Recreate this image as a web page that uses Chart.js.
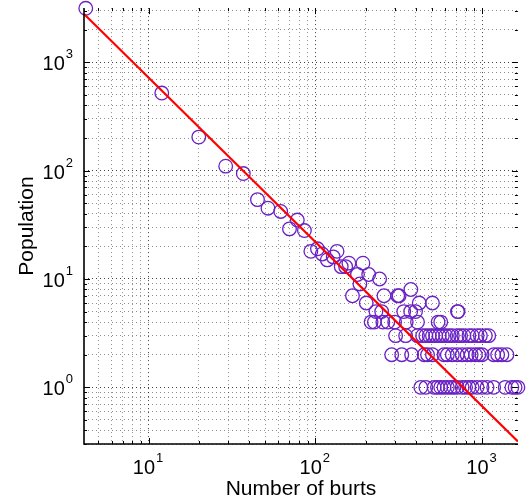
<!DOCTYPE html>
<html>
<head>
<meta charset="utf-8">
<script src="https://cdn.jsdelivr.net/npm/chart.js@4.4.1/dist/chart.umd.min.js"></script>
<style>
  html, body { margin: 0; padding: 0; background: #fff; }
  #wrap { width: 526px; height: 501px; }
</style>
</head>
<body>
<div id="wrap"><canvas id="chart" width="526" height="501"></canvas></div>
<script>
// Burst counts (x) and population (y) for each observation
const burstCounts = [
    4.2, 12, 20, 29, 37, 45, 52, 62, 70, 78,
    86, 94, 103, 110, 118, 128, 135, 143, 152, 159,
    167, 179, 185, 193, 202, 209, 216, 226, 231, 243,
    250, 254, 258, 272, 287, 299, 303, 312, 318, 330,
    339, 348, 351, 373, 374, 378, 399, 410, 410, 420,
    429, 440, 450, 460, 460, 471, 482, 504, 504, 504,
    516, 527, 540, 545, 553, 565, 565, 578, 591, 591,
    605, 619, 619, 634, 648, 663, 663, 678, 710, 710,
    710, 712, 718, 743, 760, 760, 778, 796, 814, 834,
    834, 860, 872, 872, 912, 934, 934, 956, 977, 1000,
    1000, 1046, 1071, 1096, 1174, 1174, 1240, 1315, 1376, 1409,
    1509, 1578, 1640
];
const populations = [
    3150, 520, 204, 110, 94, 54, 45, 42, 29, 35,
    28, 18, 19, 17, 15, 16, 18, 13, 13, 14,
    7, 11, 9, 14, 6, 11, 4, 4, 5, 10,
    5, 4, 7, 4, 2, 4, 3, 7, 7, 2,
    5, 3, 4, 5, 8, 2, 5, 3, 4, 6,
    1, 3, 2, 1, 3, 2, 3, 2, 3, 6,
    1, 3, 1, 4, 3, 1, 4, 3, 1, 2,
    3, 1, 2, 3, 1, 2, 3, 1, 1, 2,
    3, 5, 5, 3, 1, 2, 3, 1, 2, 1,
    3, 2, 1, 3, 2, 1, 3, 2, 3, 1,
    2, 3, 1, 3, 1, 2, 2, 2, 1, 2,
    1, 1, 1
];

// Power-law fit, drawn between the ends of the x range
const fitX = [4.1, 1640];
const fitY = [2790, 0.316];

const xRange = [4.1, 1640];
const yRange = [0.316, 3162];
const xLabelExps = [1, 2, 3];
const yLabelExps = [0, 1, 2, 3];

const axisFont = '"Liberation Sans", Arial, Helvetica, sans-serif';

// 1..9 x 10^n ticks inside [min, max]
function logTicks(min, max) {
    const out = [];
    const e0 = Math.floor(Math.log10(min));
    const e1 = Math.ceil(Math.log10(max));
    for (let e = e0; e <= e1; e++) {
        for (let k = 1; k <= 9; k++) {
            const v = k * Math.pow(10, e);
            if (v >= min * 0.999 && v <= max * 1.001) out.push({ value: v, major: k === 1 });
        }
    }
    return out;
}

function gridColor(ctx) {
    const v = ctx.tick ? ctx.tick.value : 0;
    const lg = Math.log10(v);
    return Math.abs(lg - Math.round(lg)) < 1e-6 ? 'rgba(0,0,0,0.75)' : 'rgba(0,0,0,0.45)';
}

// Axes box, inward tick marks, 10^n labels and axis titles
const axesPlugin = {
    id: 'axesPlugin',
    afterDraw(chart) {
        const ctx = chart.ctx;
        const a = chart.chartArea;
        const xs = chart.scales.x, ys = chart.scales.y;
        ctx.save();

        // tick marks on all four sides
        ctx.strokeStyle = '#000';
        ctx.lineWidth = 1;
        xs.ticks.forEach(t => {
            const px = Math.round(xs.getPixelForValue(t.value)) + 0.5;
            const len = t.major ? 6 : 3;
            ctx.beginPath();
            ctx.moveTo(px, a.bottom); ctx.lineTo(px, a.bottom - len);
            ctx.moveTo(px, a.top); ctx.lineTo(px, a.top + len);
            ctx.stroke();
        });
        ys.ticks.forEach(t => {
            const py = Math.round(ys.getPixelForValue(t.value)) + 0.5;
            const len = t.major ? 6 : 3;
            ctx.beginPath();
            ctx.moveTo(a.left, py); ctx.lineTo(a.left + len, py);
            ctx.moveTo(a.right, py); ctx.lineTo(a.right - len, py);
            ctx.stroke();
        });

        // left and bottom axis lines
        ctx.lineWidth = 1.6;
        ctx.beginPath();
        ctx.moveTo(a.left, a.top);
        ctx.lineTo(a.left, a.bottom);
        ctx.lineTo(a.right, a.bottom);
        ctx.stroke();

        // tick labels with superscript exponent
        ctx.fillStyle = '#000';
        ctx.textBaseline = 'alphabetic';
        const baseFont = '20px ' + axisFont;
        const expFont = '13px ' + axisFont;
        xLabelExps.forEach(e => {
            const px = xs.getPixelForValue(Math.pow(10, e));
            ctx.font = baseFont;
            const w = ctx.measureText('10').width;
            ctx.font = expFont;
            const we = ctx.measureText(String(e)).width;
            const x0 = px - (w + we) / 2 - 1;
            ctx.font = baseFont;
            ctx.textAlign = 'left';
            ctx.fillText('10', x0, a.bottom + 30);
            ctx.font = expFont;
            ctx.fillText(String(e), x0 + w + 1, a.bottom + 18);
        });
        yLabelExps.forEach(e => {
            const py = ys.getPixelForValue(Math.pow(10, e));
            ctx.font = expFont;
            const we = ctx.measureText(String(e)).width;
            ctx.font = baseFont;
            const w = ctx.measureText('10').width;
            const x0 = a.left - 12 - we - w;
            ctx.textAlign = 'left';
            ctx.fillText('10', x0, py + 8);
            ctx.font = expFont;
            ctx.fillText(String(e), x0 + w + 1, py - 4);
        });

        // axis titles
        ctx.font = '21px ' + axisFont;
        ctx.textAlign = 'center';
        ctx.fillText('Number of burts', (a.left + a.right) / 2, a.bottom + 51);
        ctx.save();
        ctx.translate(33, (a.top + a.bottom) / 2);
        ctx.rotate(-Math.PI / 2);
        ctx.fillText('Population', 0, 0);
        ctx.restore();

        ctx.restore();
    }
};

const scatterPoints = burstCounts.map((x, i) => ({ x: x, y: populations[i] }));
const fitPoints = fitX.map((x, i) => ({ x: x, y: fitY[i] }));

const gridOpts = { color: gridColor, lineWidth: 1, drawTicks: false };
const borderOpts = { display: false, dash: [1, 3] };

new Chart(document.getElementById('chart'), {
    type: 'scatter',
    data: {
        datasets: [
            {
                type: 'line',
                label: 'Fit',
                data: fitPoints,
                borderColor: '#ff0000',
                borderWidth: 2.2,
                pointRadius: 0,
                fill: false,
                order: 0
            },
            {
                label: 'Population',
                data: scatterPoints,
                pointStyle: 'circle',
                pointRadius: 6.8,
                pointBorderWidth: 1.3,
                borderColor: '#6a22c4',
                backgroundColor: 'rgba(0,0,0,0)',
                pointBackgroundColor: 'rgba(0,0,0,0)',
                clip: false,
                order: 1
            }
        ]
    },
    options: {
        responsive: false,
        animation: false,
        devicePixelRatio: 1,
        layout: { padding: { left: 84, top: 7, right: 5, bottom: 57 } },
        plugins: { legend: { display: false }, tooltip: { enabled: false } },
        scales: {
            x: {
                type: 'logarithmic',
                min: xRange[0],
                max: xRange[1],
                afterBuildTicks: s => { s.ticks = logTicks(s.min, s.max); },
                ticks: { display: false },
                border: borderOpts,
                grid: gridOpts
            },
            y: {
                type: 'logarithmic',
                min: yRange[0],
                max: yRange[1],
                afterBuildTicks: s => { s.ticks = logTicks(s.min, s.max); },
                ticks: { display: false },
                border: borderOpts,
                grid: gridOpts
            }
        }
    },
    plugins: [axesPlugin]
});
</script>
</body>
</html>
